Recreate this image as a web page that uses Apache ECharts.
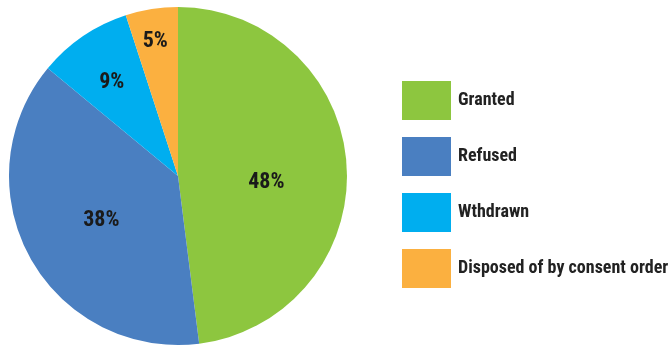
<!DOCTYPE html>
<html>
<head>
<meta charset="utf-8">
<script src="https://cdn.jsdelivr.net/npm/echarts@6/dist/echarts.min.js"></script>
<style>
  html, body { margin: 0; padding: 0; background: #fff; }
  #chart { width: 671px; height: 346px; }
</style>
</head>
<body>
<div id="chart"></div>
<script>
// pie slices, clockwise from 12 o'clock
var categories = ['Granted', 'Refused', 'Wthdrawn', 'Disposed of by consent order'];
var values = [48, 38, 9, 5];
var colors = ['#8DC63F', '#4A7FC1', '#00AEEF', '#FBB040'];
// nudge labels to where the original put them
var labelOffsets = [[1, 12], [0, 2], [-17, -21], [-9, -48]];

var font = '"Roboto Condensed", "Liberation Sans Narrow", Roboto, sans-serif';

var chart = echarts.init(document.getElementById('chart'));

var pieData = categories.map(function (name, i) {
    return {
        name: name,
        value: values[i],
        itemStyle: { color: colors[i] },
        label: { offset: labelOffsets[i] }
    };
});

chart.setOption({
    animation: false,
    legend: {
        orient: 'vertical',
        left: 402,
        top: 81,
        padding: 0,
        icon: 'rect',
        itemWidth: 49,
        itemHeight: 39,
        itemGap: 17,
        data: categories,
        textStyle: {
            fontFamily: font,
            fontWeight: 'bold',
            fontSize: 18,
            color: '#222',
            padding: [3, 0, 0, 2]
        }
    },
    series: [{
        type: 'pie',
        center: [178, 176],
        radius: 169,
        startAngle: 90,
        clockwise: true,
        silent: true,
        itemStyle: { borderWidth: 0 },
        label: {
            position: 'inside',
            formatter: '{c}%',
            fontFamily: font,
            fontWeight: 'bold',
            fontSize: 22,
            color: '#1a1a1a'
        },
        labelLine: { show: false },
        data: pieData
    }]
});
</script>
</body>
</html>
